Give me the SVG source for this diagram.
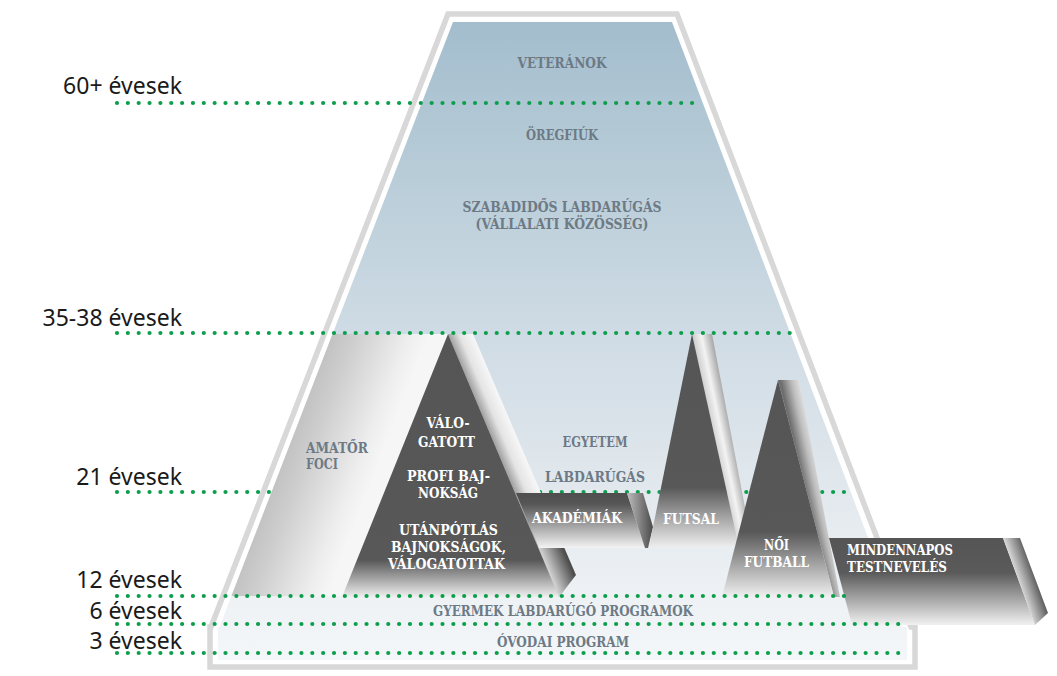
<svg xmlns="http://www.w3.org/2000/svg" width="1057" height="676" viewBox="0 0 1057 676">
<style>
.lbl{font-family:'Noto Sans','Liberation Sans',sans-serif;font-size:23px;fill:#1a1a1a;text-anchor:end}
.cond{font-family:'DejaVu Serif Condensed','DejaVu Serif',serif;font-weight:bold;font-size:14.5px;fill:#6d7a85;text-anchor:middle}
.slab{font-family:'DejaVu Serif',serif;font-weight:bold;font-size:14px;fill:#6d7a85}
.mid{text-anchor:middle}
.wh{fill:#ffffff}
.dots{fill:none;stroke:#0b9e4b;stroke-width:4.2;stroke-linecap:round;stroke-dasharray:0 10.85}
</style>
<defs>
<linearGradient id="bgG" gradientUnits="userSpaceOnUse" x1="0" y1="22" x2="0" y2="660">
<stop offset="0" stop-color="#a3bdcd"/><stop offset="0.28" stop-color="#bccfda"/><stop offset="0.5" stop-color="#d0dce5"/><stop offset="0.75" stop-color="#e3e9ee"/><stop offset="1" stop-color="#f4f7f9"/>
</linearGradient>
<linearGradient id="colG" gradientUnits="userSpaceOnUse" x1="300" y1="415" x2="385" y2="448">
<stop offset="0" stop-color="#c2c2c2"/><stop offset="0.25" stop-color="#cecece"/><stop offset="0.8" stop-color="#eeeeee"/><stop offset="1" stop-color="#f6f6f6"/>
</linearGradient>
<linearGradient id="pyrD" x1="0" y1="0" x2="0" y2="1">
<stop offset="0" stop-color="#555555"/><stop offset="0.86" stop-color="#585858"/><stop offset="1" stop-color="#efefef"/>
</linearGradient>
<linearGradient id="pyrB" gradientUnits="userSpaceOnUse" x1="476" y1="400" x2="497.2" y2="391">
<stop offset="0" stop-color="#a2a2a2"/><stop offset="0.45" stop-color="#e4e4e4"/><stop offset="1" stop-color="#f7f7f7"/>
</linearGradient>
<linearGradient id="pyrB2" gradientUnits="userSpaceOnUse" x1="545" y1="565" x2="566" y2="556">
<stop offset="0" stop-color="#d8d8d8"/><stop offset="1" stop-color="#4e4e4e"/>
</linearGradient>
<linearGradient id="akaG" x1="0" y1="0" x2="0" y2="1">
<stop offset="0" stop-color="#4e4e4e"/><stop offset="0.2" stop-color="#565656"/><stop offset="0.55" stop-color="#9a9a9a"/><stop offset="1" stop-color="#f3f3f3"/>
</linearGradient>
<linearGradient id="akaB" x1="0" y1="0" x2="1" y2="0">
<stop offset="0" stop-color="#bdbdbd"/><stop offset="1" stop-color="#4a4a4a"/>
</linearGradient>
<linearGradient id="futB" gradientUnits="userSpaceOnUse" x1="706.5" y1="400" x2="726" y2="396">
<stop offset="0" stop-color="#d2d2d2"/><stop offset="0.4" stop-color="#f3f3f3"/><stop offset="1" stop-color="#9c9c9c"/>
</linearGradient>
<linearGradient id="futD" x1="0" y1="0" x2="0" y2="1">
<stop offset="0" stop-color="#555555"/><stop offset="0.72" stop-color="#585858"/><stop offset="1" stop-color="#eeeeee"/>
</linearGradient>
<linearGradient id="noiB" gradientUnits="userSpaceOnUse" x1="796" y1="450" x2="816.5" y2="445.5">
<stop offset="0" stop-color="#6e6e6e"/><stop offset="0.5" stop-color="#bdbdbd"/><stop offset="1" stop-color="#ececec"/>
</linearGradient>
<linearGradient id="noiD" x1="0" y1="0" x2="0" y2="1">
<stop offset="0" stop-color="#555555"/><stop offset="0.7" stop-color="#585858"/><stop offset="1" stop-color="#f0f0f0"/>
</linearGradient>
<linearGradient id="boxD" x1="0" y1="0" x2="0" y2="1">
<stop offset="0" stop-color="#555555"/><stop offset="0.4" stop-color="#5a5a5a"/><stop offset="1" stop-color="#f1f1f1"/>
</linearGradient>
<linearGradient id="boxB" gradientUnits="userSpaceOnUse" x1="1018.5" y1="580" x2="1034.5" y2="574.4">
<stop offset="0" stop-color="#d5d5d5"/><stop offset="1" stop-color="#5c5c5c"/>
</linearGradient>
</defs>

<g id="frame">
<path d="M448,14 L677,14 L911,627 L915,627 L915,667 L210,667 L210,627 L211,627 Z" fill="#ffffff" stroke="#d8d8d8" stroke-width="5.5" stroke-linejoin="miter"/>
<path d="M453,22 L672,22 L902,627 L907,627 L907,660 L218,660 L218,627 L219.5,627 Z" fill="url(#bgG)"/>
</g>

<g id="connectors-back">
<line class="dots" x1="117" y1="492" x2="850" y2="492"/>
</g>

<g id="amator-foci">
<polygon points="332.6,334 473,334 550,596 231.4,596" fill="url(#colG)"/>
<text class="slab" x="306" y="453" textLength="62" lengthAdjust="spacingAndGlyphs">AMATŐR</text>
<text class="slab" x="306" y="469" textLength="32" lengthAdjust="spacingAndGlyphs">FOCI</text>
</g>

<g id="piramis">
<polygon points="448,334 473,334 576,575 559,597" fill="url(#pyrB)"/>
<polygon points="538,547 564,547 576,575 559,597" fill="url(#pyrB2)"/>
<polygon points="448,334 559,597 342,597" fill="url(#pyrD)"/>
<text class="slab mid wh" x="448" y="428" textLength="43" lengthAdjust="spacingAndGlyphs">VÁLO-</text>
<text class="slab mid wh" x="446.5" y="447" textLength="57" lengthAdjust="spacingAndGlyphs">GATOTT</text>
<text class="slab mid wh" x="448.5" y="481" textLength="83" lengthAdjust="spacingAndGlyphs">PROFI BAJ-</text>
<text class="slab mid wh" x="448" y="498" textLength="60" lengthAdjust="spacingAndGlyphs">NOKSÁG</text>
<text class="slab mid wh" x="448.5" y="535" textLength="99" lengthAdjust="spacingAndGlyphs">UTÁNPÓTLÁS</text>
<text class="slab mid wh" x="448.5" y="552" textLength="115" lengthAdjust="spacingAndGlyphs">BAJNOKSÁGOK,</text>
<text class="slab mid wh" x="446.5" y="569" textLength="117" lengthAdjust="spacingAndGlyphs">VÁLOGATOTTAK</text>
</g>

<g id="akademiak">
<polygon points="516,493 627,493 645,548 539,548" fill="url(#akaG)"/>
<polygon points="627,493 643,493 653,527 648,548 645,548" fill="url(#akaB)"/>
<text class="slab mid wh" x="577" y="523" textLength="90" lengthAdjust="spacingAndGlyphs">AKADÉMIÁK</text>
</g>

<g id="egyetem">
<text class="slab mid" x="595" y="447" textLength="65" lengthAdjust="spacingAndGlyphs">EGYETEM</text>
<text class="slab mid" x="595" y="482" textLength="100" lengthAdjust="spacingAndGlyphs">LABDARÚGÁS</text>
</g>

<g id="futsal">
<polygon points="692,334 712,334 755,560 742,560" fill="url(#futB)"/>
<polygon points="692,334 739,547 649,547" fill="url(#futD)"/>
<text class="slab mid wh" x="691" y="524" textLength="56" lengthAdjust="spacingAndGlyphs">FUTSAL</text>
</g>

<g id="noi-futball">
<polygon points="778,380 799,380 840,597 834,597" fill="url(#noiB)"/>
<polygon points="778,380 834,597 722,597" fill="url(#noiD)"/>
<text class="slab mid wh" x="776.5" y="550" textLength="25" lengthAdjust="spacingAndGlyphs">NŐI</text>
<text class="slab mid wh" x="776.5" y="567" textLength="65" lengthAdjust="spacingAndGlyphs">FUTBALL</text>
</g>

<g id="mindennapos">
<polygon points="829,538 1003,538 1035,625 852,625" fill="url(#boxD)"/>
<polygon points="1003,538 1020,538 1048,613 1035,625" fill="url(#boxB)"/>
<text class="slab wh" x="847" y="555" textLength="106" lengthAdjust="spacingAndGlyphs">MINDENNAPOS</text>
<text class="slab wh" x="847" y="572" textLength="100" lengthAdjust="spacingAndGlyphs">TESTNEVELÉS</text>
</g>

<g id="connectors">
<line class="dots" x1="117" y1="103" x2="697" y2="103"/>
<line class="dots" x1="117" y1="333" x2="791" y2="333"/>
<line class="dots" x1="117" y1="596" x2="845" y2="596"/>
<line class="dots" x1="117" y1="624" x2="900" y2="624"/>
<line class="dots" x1="117" y1="653" x2="900" y2="653"/>
</g>

<g id="felso-szintek">
<text class="cond" x="562" y="68" textLength="89" lengthAdjust="spacingAndGlyphs">VETERÁNOK</text>
<text class="cond" x="562" y="140" textLength="72" lengthAdjust="spacingAndGlyphs">ÖREGFIÚK</text>
<text class="cond" x="562" y="211.5" textLength="199" lengthAdjust="spacingAndGlyphs">SZABADIDŐS LABDARÚGÁS</text>
<text class="cond" x="562" y="228.5" textLength="173" lengthAdjust="spacingAndGlyphs">(VÁLLALATI KÖZÖSSÉG)</text>
</g>

<g id="gyermek">
<text class="cond" x="563" y="616" font-size="13.5" textLength="260" lengthAdjust="spacingAndGlyphs">GYERMEK LABDARÚGÓ PROGRAMOK</text>
</g>
<g id="ovodai">
<text class="cond" x="563" y="646.5" font-size="13.5" textLength="132" lengthAdjust="spacingAndGlyphs">ÓVODAI PROGRAM</text>
</g>

<g id="korok">
<text class="lbl" x="182" y="94">60+ évesek</text>
<text class="lbl" x="182" y="326">35-38 évesek</text>
<text class="lbl" x="182" y="485">21 évesek</text>
<text class="lbl" x="182" y="588">12 évesek</text>
<text class="lbl" x="182" y="619">6 évesek</text>
<text class="lbl" x="182" y="649">3 évesek</text>
</g>
</svg>
